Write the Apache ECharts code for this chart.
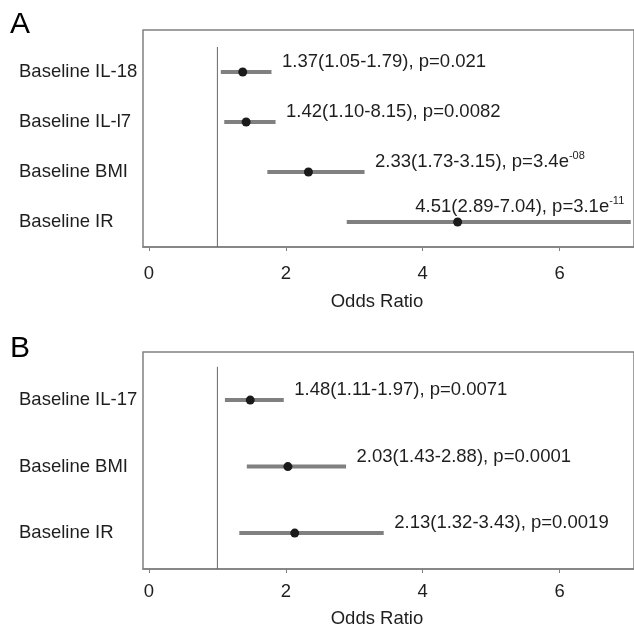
<!DOCTYPE html>
<html>
<head>
<meta charset="utf-8">
<script src="https://cdn.jsdelivr.net/npm/echarts@6/dist/echarts.min.js"></script>
<style>html,body{margin:0;padding:0;background:#fff}#c{width:634px;height:629px}</style>
</head>
<body>
<div id="c"></div>
<script>
// Panel A
const catsA = ['Baseline IL-18', 'Baseline IL-l7', 'Baseline BMI', 'Baseline IR'];
const orA = [1.37, 1.42, 2.33, 4.51];
const loA = [1.05, 1.10, 1.73, 2.89];
const hiA = [1.79, 1.85, 3.15, 7.04];
const textA = ['1.37(1.05-1.79), p=0.021', '1.42(1.10-8.15), p=0.0082', '2.33(1.73-3.15), p=3.4e', '4.51(2.89-7.04), p=3.1e'];
const supA = ['', '', '-08', '-11'];
// Panel B
const catsB = ['Baseline IL-17', 'Baseline BMI', 'Baseline IR'];
const orB = [1.48, 2.03, 2.13];
const loB = [1.11, 1.43, 1.32];
const hiB = [1.97, 2.88, 3.43];
const textB = ['1.48(1.11-1.97), p=0.0071', '2.03(1.43-2.88), p=0.0001', '2.13(1.32-3.43), p=0.0019'];
const supB = ['', '', ''];
const xTicks = [0, 2, 4, 6];
const refValue = 1;

const X_MIN = -0.087, X_MAX = 7.087;
const FONT = 'Liberation Sans, Arial, Helvetica, sans-serif';
const TXT = '#1e1e1e';
const GRAY = '#808080';
const FS = 18.5;

const chart = echarts.init(document.getElementById('c'), null, {renderer: 'canvas'});

function panel(idx, cats, or, lo, hi, text, sup, yMin, yMax) {
  const rows = cats.map((_, i) => i + 1);
  const lastTick = xTicks[xTicks.length - 1];
  const series = [];
  series.push({
    type: 'line', xAxisIndex: idx, yAxisIndex: idx, silent: true,
    data: [[refValue, 0.5], [refValue, yMax]], symbol: 'none',
    lineStyle: {color: '#666', width: 1}, z: 1
  });
  series.push({
    type: 'custom', xAxisIndex: idx, yAxisIndex: idx, clip: true, silent: true,
    data: rows.map((r, i) => [r, lo[i], hi[i]]),
    encode: {x: [1, 2], y: 0},
    renderItem: function (params, api) {
      const y = api.value(0);
      const p1 = api.coord([api.value(1), y]);
      const p2 = api.coord([api.value(2), y]);
      return {type: 'line', shape: {x1: p1[0], y1: p1[1], x2: p2[0], y2: p2[1]},
        style: {stroke: GRAY, lineWidth: 4}};
    }, z: 2
  });
  series.push({
    type: 'scatter', xAxisIndex: idx, yAxisIndex: idx, silent: true,
    data: rows.map((r, i) => [or[i], r]), symbolSize: 9,
    itemStyle: {color: '#1a1a1a', opacity: 1}, z: 3
  });
  series.push({
    type: 'scatter', xAxisIndex: idx, yAxisIndex: idx, silent: true, symbolSize: 1, clip: false,
    itemStyle: {color: 'rgba(0,0,0,0)', opacity: 1},
    data: rows.map((r, i) => {
      const nearEdge = hi[i] > lastTick;
      return {
        value: [hi[i], r],
        label: nearEdge
          ? {position: 'left', distance: 0, offset: [-6, -15]}
          : {position: 'right', distance: 0, offset: [10, -10]}
      };
    }),
    label: {
      show: true, color: TXT, opacity: 1,
      formatter: p => '{m|' + text[p.dataIndex] + '}' + (sup[p.dataIndex] ? '{s|' + sup[p.dataIndex] + '}' : ''),
      rich: {
        m: {fontSize: FS, fontFamily: FONT, color: TXT, lineHeight: 24},
        s: {fontSize: 11, fontFamily: FONT, color: TXT, verticalAlign: 'top', lineHeight: 11}
      }
    },
    emphasis: {disabled: true}, z: 4
  });
  return series;
}

function xAxis(idx, margin) {
  return {
    gridIndex: idx, type: 'value', min: X_MIN, max: X_MAX, splitLine: {show: false},
    axisLine: {show: true, lineStyle: {color: GRAY, width: 1.5}},
    axisTick: {show: true, customValues: xTicks, length: 4, lineStyle: {color: GRAY}},
    axisLabel: {customValues: xTicks, fontSize: FS, fontFamily: FONT, color: TXT, margin: margin}
  };
}
function yAxis(idx, cats, yMin, yMax) {
  return {
    gridIndex: idx, type: 'value', inverse: true, min: yMin, max: yMax,
    splitLine: {show: false}, axisLine: {show: false}, axisTick: {show: false},
    axisLabel: {
      customValues: cats.map((_, i) => i + 1),
      formatter: v => cats[Math.round(v) - 1] || '',
      align: 'left', margin: 124, fontSize: FS, fontFamily: FONT, color: TXT
    }
  };
}

const yA = [0.16, 4.5];
const yB = [0.277, 3.54];

chart.setOption({
  backgroundColor: '#fff',
  animation: false,
  grid: [
    {left: 143, top: 30, right: -4, height: 217, show: true, borderColor: GRAY, borderWidth: 1.5, backgroundColor: 'transparent'},
    {left: 143, top: 352, right: -4, height: 217, show: true, borderColor: GRAY, borderWidth: 1.5, backgroundColor: 'transparent'}
  ],
  xAxis: [xAxis(0, 17), xAxis(1, 13)],
  yAxis: [yAxis(0, catsA, yA[0], yA[1]), yAxis(1, catsB, yB[0], yB[1])],
  graphic: [
    {type: 'text', left: 10, top: 10, style: {text: 'A', fontSize: 30, fontFamily: FONT, fill: '#000'}},
    {type: 'text', left: 10, top: 334, style: {text: 'B', fontSize: 30, fontFamily: FONT, fill: '#000'}},
    {type: 'text', x: 377, y: 302, style: {text: 'Odds Ratio', fontSize: FS, fontFamily: FONT, fill: TXT, align: 'center', verticalAlign: 'middle'}},
    {type: 'text', x: 377, y: 619, style: {text: 'Odds Ratio', fontSize: FS, fontFamily: FONT, fill: TXT, align: 'center', verticalAlign: 'middle'}}
  ],
  series: [].concat(
    panel(0, catsA, orA, loA, hiA, textA, supA, yA[0], yA[1]),
    panel(1, catsB, orB, loB, hiB, textB, supB, yB[0], yB[1])
  )
});
</script>
</body>
</html>
